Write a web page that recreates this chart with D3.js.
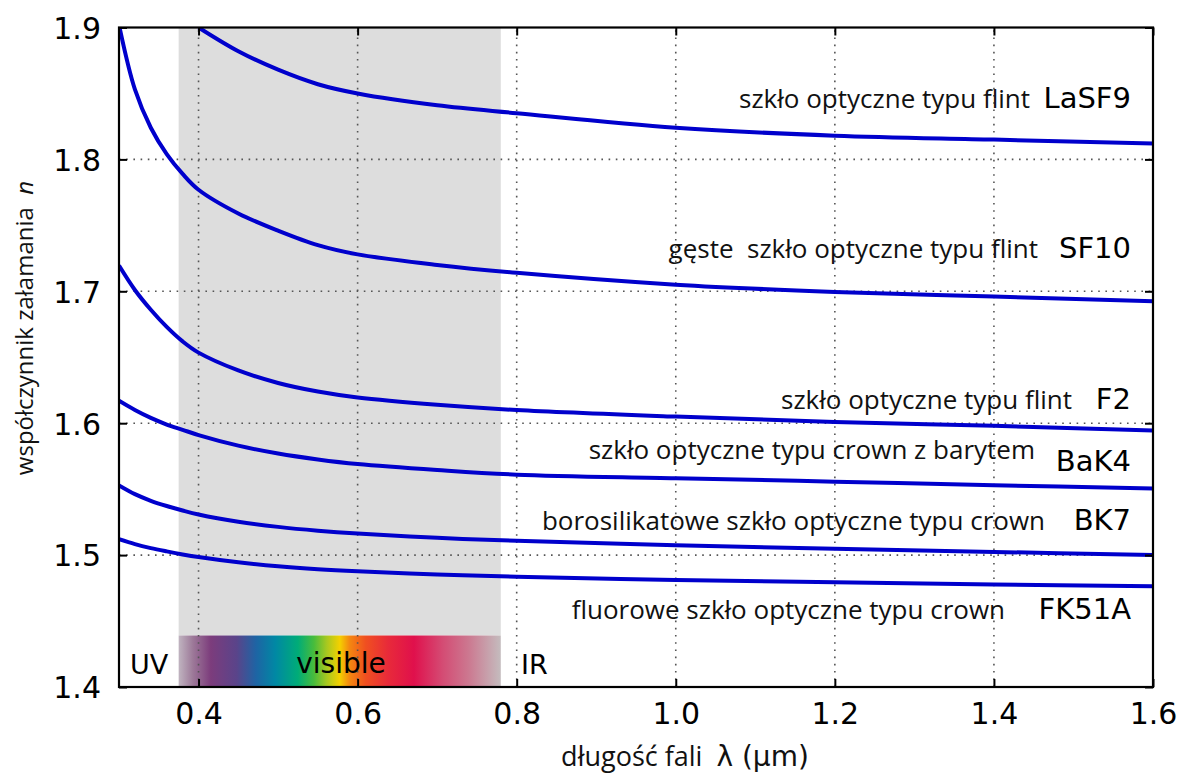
<!DOCTYPE html>
<html>
<head>
<meta charset="utf-8">
<script src="https://cdn.jsdelivr.net/npm/d3@7/dist/d3.min.js"></script>
<style>
  html, body { margin: 0; padding: 0; background: #fff; }
  svg { display: block; }
  text { white-space: pre; }
</style>
</head>
<body>
<div id="chart"></div>
<script>
// ---------- data ----------
const lambdaFull = [0.30,0.32,0.34,0.36,0.38,0.40,0.45,0.50,0.55,0.60,0.70,0.80,1.00,1.20,1.40,1.60];
const lambdaLaSF9 = [0.40,0.45,0.50,0.55,0.60,0.70,0.80,1.00,1.20,1.40,1.60];

const nLaSF9 = [1.900,1.882,1.868,1.857,1.850,1.841,1.835,1.824,1.818,1.815,1.812];
const nSF10  = [1.902,1.853,1.824,1.804,1.789,1.777,1.759,1.746,1.735,1.728,1.720,1.714,1.705,1.6995,1.696,1.6925];
const nF2    = [1.7195,1.701,1.686,1.673,1.662,1.6535,1.640,1.6305,1.624,1.6195,1.614,1.610,1.605,1.601,1.598,1.5945];
const nBaK4  = [1.617,1.610,1.604,1.599,1.595,1.591,1.583,1.577,1.5725,1.569,1.5645,1.561,1.5583,1.5557,1.553,1.5505];
const nBK7   = [1.5528,1.5462,1.5412,1.5372,1.5338,1.5308,1.5253,1.5214,1.5185,1.5163,1.5131,1.5108,1.5075,1.5048,1.5024,1.5000];
const nFK51A = [1.512,1.5083,1.5053,1.5028,1.5005,1.4985,1.4945,1.4915,1.4893,1.4877,1.4853,1.4836,1.4812,1.4794,1.4778,1.4763];

const seriesNames = ["LaSF9","SF10","F2","BaK4","BK7","FK51A"];
const seriesDesc  = ["szkło optyczne typu flint","gęste  szkło optyczne typu flint","szkło optyczne typu flint",
                     "szkło optyczne typu crown z barytem","borosilikatowe szkło optyczne typu crown","fluorowe szkło optyczne typu crown"];

const xTicks = [0.4,0.6,0.8,1.0,1.2,1.4,1.6];
const yTicks = [1.4,1.5,1.6,1.7,1.8,1.9];
const visibleBand = [0.375, 0.78];
const spectrumStops = [
  [0.000,"#c0b4c0"],[0.045,"#9c7898"],[0.10,"#7c3c7c"],[0.18,"#5a448a"],[0.24,"#1e64a4"],
  [0.30,"#0088a4"],[0.37,"#00ac78"],[0.42,"#48bc3c"],[0.46,"#a8c820"],[0.50,"#f4d000"],
  [0.53,"#f48810"],[0.58,"#f05020"],[0.65,"#e82a3a"],[0.73,"#e0104c"],[0.82,"#d44c74"],
  [0.90,"#cc7890"],[1.00,"#c4bcbe"]
];

// ---------- layout ----------
const W = 1185, H = 774;
const pLeft = 119, pRight = 1153, pTop = 27.5, pBottom = 687;

const svg = d3.select("#chart").append("svg").attr("width", W).attr("height", H);
svg.append("rect").attr("width", W).attr("height", H).attr("fill", "#fff");

const x = d3.scaleLinear().domain([0.3, 1.6]).range([pLeft, pRight]);
const y = d3.scaleLinear().domain([1.4, 1.9]).range([pBottom, pTop]);

const defs = svg.append("defs");
defs.append("clipPath").attr("id","clip").append("rect")
  .attr("x", pLeft).attr("y", pTop).attr("width", pRight-pLeft).attr("height", pBottom-pTop);
const grad = defs.append("linearGradient").attr("id","spec").attr("x1","0%").attr("x2","100%");
spectrumStops.forEach(s => grad.append("stop").attr("offset", s[0]).attr("stop-color", s[1]));

// visible shaded band
const specTop = 635.5;
svg.append("rect")
  .attr("x", x(visibleBand[0])).attr("y", pTop)
  .attr("width", x(visibleBand[1]) - x(visibleBand[0])).attr("height", specTop - pTop)
  .attr("fill", "#dddddd");
svg.append("rect")
  .attr("x", x(visibleBand[0])).attr("y", specTop)
  .attr("width", x(visibleBand[1]) - x(visibleBand[0])).attr("height", pBottom - specTop)
  .attr("fill", "url(#spec)");

// grid
const grid = svg.append("g").attr("stroke", "#555").attr("stroke-width", 1.6)
  .attr("stroke-dasharray", "1.6,5.6").attr("fill","none");
xTicks.filter(t => t < 1.6).forEach(t => grid.append("line")
  .attr("x1", x(t)).attr("x2", x(t)).attr("y1", pBottom).attr("y2", pTop));
yTicks.filter(t => t > 1.4 && t < 1.9).forEach(t => grid.append("line")
  .attr("x1", pLeft).attr("x2", pRight).attr("y1", y(t)).attr("y2", y(t)));

// curves
const line = d3.line().x(d => x(d[0])).y(d => y(d[1])).curve(d3.curveCatmullRom.alpha(0.5));
const allSeries = [
  d3.zip(lambdaLaSF9, nLaSF9),
  d3.zip(lambdaFull, nSF10),
  d3.zip(lambdaFull, nF2),
  d3.zip(lambdaFull, nBaK4),
  d3.zip(lambdaFull, nBK7),
  d3.zip(lambdaFull, nFK51A)
];
svg.append("g").attr("clip-path","url(#clip)")
  .selectAll("path").data(allSeries).join("path")
  .attr("d", line).attr("fill","none").attr("stroke","#0000cc").attr("stroke-width", 4)
  .attr("stroke-linejoin","round");

// axes (ticks inward on all 4 sides)
const tickLen = 8;
const axB = svg.append("g").attr("transform", `translate(0,${pBottom})`)
  .call(d3.axisBottom(x).tickValues(xTicks).tickSizeInner(-tickLen).tickSizeOuter(0).tickPadding(16).tickFormat(d3.format(".1f")));
const axT = svg.append("g").attr("transform", `translate(0,${pTop})`)
  .call(d3.axisTop(x).tickValues(xTicks).tickSizeInner(-tickLen).tickSizeOuter(0).tickFormat(""));
const axL = svg.append("g").attr("transform", `translate(${pLeft},0)`)
  .call(d3.axisLeft(y).tickValues(yTicks).tickSizeInner(-tickLen).tickSizeOuter(0).tickPadding(18).tickFormat(d3.format(".1f")));
const axR = svg.append("g").attr("transform", `translate(${pRight},0)`)
  .call(d3.axisRight(y).tickValues(yTicks).tickSizeInner(-tickLen).tickSizeOuter(0).tickFormat(""));
[axB, axT, axL, axR].forEach(a => {
  a.select(".domain").remove();
  a.selectAll(".tick line").attr("stroke","#000").attr("stroke-width",2);
  a.selectAll(".tick text").attr("font-family","DejaVu Sans").attr("font-size",30).attr("fill","#000");
});
axB.selectAll(".tick text").attr("dy","0.71em");
axL.selectAll(".tick text").attr("dy","0.36em");

// frame
svg.append("rect").attr("x", pLeft).attr("y", pTop).attr("width", pRight-pLeft).attr("height", pBottom-pTop)
  .attr("fill","none").attr("stroke","#000").attr("stroke-width",2.2);

// band labels
const bandFont = "DejaVu Sans";
svg.append("text").attr("x", 130).attr("y", 674).attr("font-family", bandFont).attr("font-size", 27).text("UV");
svg.append("text").attr("x", 521).attr("y", 674).attr("font-family", bandFont).attr("font-size", 27).text("IR");
svg.append("text").attr("x", 341).attr("y", 673).attr("text-anchor","middle").attr("font-family", bandFont).attr("font-size", 28).text("visible");

// series labels
const descEnd   = [1030, 1038, 1072, 1035, 1045, 1005];
const descBase  = [108, 258, 409, 459, 530, 619];
const nameBase  = [108, 258, 409, 471, 530, 619];
const nameEnd   = 1131;
const lab = svg.append("g");
seriesNames.forEach((nm, i) => {
  lab.append("text").attr("x", descEnd[i]).attr("y", descBase[i]).attr("text-anchor","end")
    .attr("font-family","Open Sans").attr("font-size",26).attr("fill","#111").text(seriesDesc[i]);
  lab.append("text").attr("x", nameEnd).attr("y", nameBase[i]).attr("text-anchor","end")
    .attr("font-family","DejaVu Sans").attr("font-size",29).attr("fill","#000").text(nm);
});

// axis titles
const yl = svg.append("text").attr("transform","translate(33,328) rotate(-90)")
  .attr("text-anchor","middle").attr("font-family","Open Sans").attr("font-size",24).attr("fill","#111");
yl.append("tspan").text("współczynnik załamania  ");
yl.append("tspan").attr("font-style","italic").text("n");

const xl = svg.append("text").attr("x", 685).attr("y", 766).attr("text-anchor","middle")
  .attr("font-family","Open Sans").attr("font-size",27).attr("fill","#111");
xl.append("tspan").text("długość fali  ");
xl.append("tspan").attr("font-family","DejaVu Sans").attr("font-size",28).text("λ (µm)");
</script>
</body>
</html>
